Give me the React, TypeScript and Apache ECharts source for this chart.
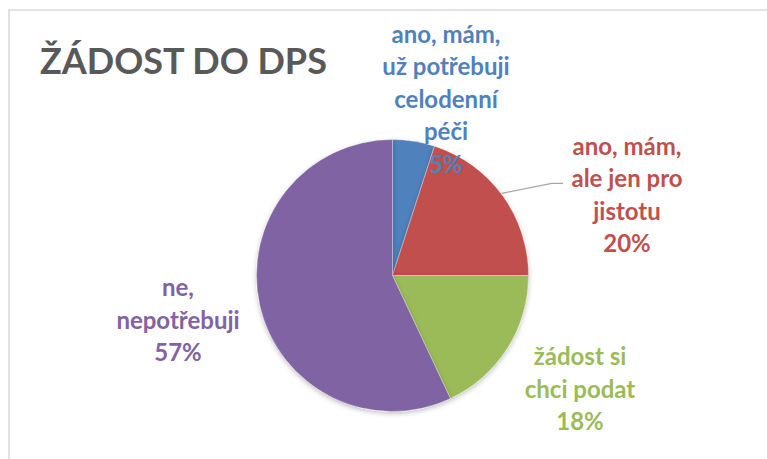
import React, { useEffect, useRef } from "react";
import * as echarts from "echarts";

const titleText = "ŽÁDOST DO DPS";
const categories = [
  "ano, mám,\nuž potřebuji\ncelodenní\npéči",
  "ano, mám,\nale jen pro\njistotu",
  "žádost si\nchci podat",
  "ne,\nnepotřebuji",
];
const values = [5, 20, 18, 57];
const colors = ["#4F81BD", "#C0504D", "#9BBB59", "#8064A2"];

export default function App() {
  const ref = useRef<HTMLDivElement>(null);
  useEffect(() => {
    document.body.style.margin = "0";
    const chart = echarts.init(ref.current!, null, { renderer: "svg" });
    const labelPos = [
      { x: 446, y: 98 },
      { x: 627, y: 194 },
      { x: 580, y: 388 },
      { x: 178, y: 319 },
    ];
    chart.setOption({
      animation: false,
      backgroundColor: "#ffffff",
      graphic: [
        {
          type: "rect",
          shape: { x: 9, y: 10, width: 900, height: 600 },
          style: { fill: "none", stroke: "#d9d9d9", lineWidth: 1.5 },
          silent: true,
        },
        {
          type: "text",
          x: 40,
          y: 60,
          style: {
            text: titleText,
            fill: "#595959",
            font: "bold 36px Lato",
            textAlign: "left",
            textVerticalAlign: "middle",
          },
          silent: true,
        },
      ],
      series: [
        {
          type: "pie",
          center: [392.5, 275.5],
          radius: 136,
          startAngle: 90,
          clockwise: true,
          percentPrecision: 0,
          itemStyle: {
            borderColor: "rgba(255,255,255,0.6)",
            borderWidth: 0.5,
            shadowBlur: 5,
            shadowColor: "rgba(0,0,0,0.25)",
            shadowOffsetY: 2,
          },
          label: {
            show: true,
            formatter: "{b}\n{d}%",
            fontFamily: "Lato",
            fontWeight: "bold",
            fontSize: 24,
            lineHeight: 32.5,
            align: "center",
          },
          labelLine: {
            show: true,
            lineStyle: { color: "#a6a6a6", width: 1.2 },
          },
          labelLayout: (params: any) => {
            const p = labelPos[params.dataIndex];
            const res: any = {
              x: p.x,
              y: p.y,
              align: "center",
              verticalAlign: "middle",
            };
            if (params.dataIndex === 1) {
              res.labelLinePoints = [
                [501.7, 193.3],
                [551.7, 183.3],
                [563, 183.3],
              ];
            }
            return res;
          },
          data: categories.map((name, i) => ({
            name,
            value: values[i],
            itemStyle: { color: colors[i] },
            label: { color: colors[i] },
            labelLine: { show: i === 1 },
          })),
        },
      ],
    });
    return () => chart.dispose();
  }, []);
  return <div ref={ref} style={{ width: 767, height: 459 }} />;
}
